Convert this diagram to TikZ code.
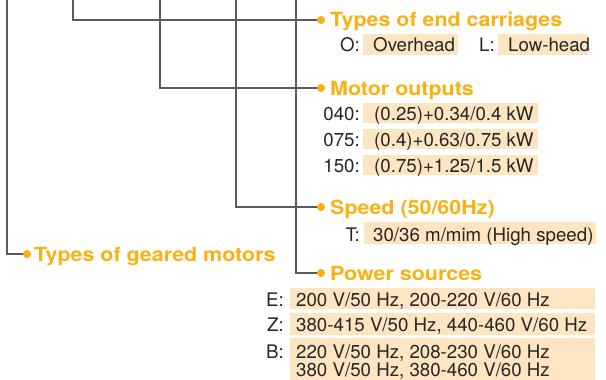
\documentclass[tikz,border=0pt]{standalone}
\usepackage{fontspec}
\setmainfont{TeX Gyre Heros}
\newfontfamily\headfont[FakeStretch=1.1]{TeX Gyre Heros Bold}
\definecolor{orng}{RGB}{250,176,16}
\definecolor{peach}{RGB}{253,229,194}
\definecolor{linec}{RGB}{90,90,90}
\tikzset{
  conn/.style={draw=linec, line width=1.2pt},
  head/.style={font=\headfont\fontsize{19.5}{22}\selectfont, text=orng, inner sep=0pt, anchor=base west},
  txt/.style={font=\fontsize{18.7}{21}\selectfont, text=black!85, inner sep=0pt, anchor=base west},
  lbl/.style={font=\fontsize{18.7}{21}\selectfont, text=black!85, inner sep=0pt, anchor=base east},
  valbox/.style={fill=peach},
  hdot/.style={circle, fill=orng, inner sep=0pt, minimum size=7.8pt}
}
\begin{document}
\begin{tikzpicture}[x=1pt,y=-1pt]
\useasboundingbox (0,0) rectangle (606,380);
% value boxes
\fill[valbox] (363,34) rectangle (458,55);
\fill[valbox] (498,34) rectangle (588,55);
\fill[valbox] (363,103) rectangle (538,123);
\fill[valbox] (363,129) rectangle (538,149);
\fill[valbox] (363,155) rectangle (538,175);
\fill[valbox] (364,222) rectangle (596,244);
\fill[valbox] (290,288) rectangle (595,309);
\fill[valbox] (290,313) rectangle (595,335);
\fill[valbox] (290,338) rectangle (595,380);
% top coordinates of connectors
\coordinate (t1) at (7,0);
\coordinate (t2) at (73,0);
\coordinate (t3) at (160,0);
\coordinate (t4) at (236,0);
\coordinate (t5) at (296,0);
% dots
\node[hdot] (d1) at (27,254) {};
\node[hdot] (d2) at (321,20) {};
\node[hdot] (d3) at (321,88) {};
\node[hdot] (d4) at (321,207) {};
\node[hdot] (d5) at (321,273) {};
% connectors
\draw[conn] (t1) |- (d1.center);
\draw[conn] (t2) |- (d2.center);
\draw[conn] (t3) |- (d3.center);
\draw[conn] (t4) |- (d4.center);
\draw[conn] (t5) |- (d5.center);
\node[hdot] at (d1) {};
\node[hdot] at (d2) {};
\node[hdot] at (d3) {};
\node[hdot] at (d4) {};
\node[hdot] at (d5) {};
% headings
\node[head] (h1) at (34,261) {Types of geared motors};
\node[head] (h2) at (330,26.5) {Types of end carriages};
\node[head] (h3) at (330,95.7) {Motor outputs};
\node[head] (h4) at (330,214.5) {Speed (50/60Hz)};
\node[head] (h5) at (330,280.5) {Power sources};
% end carriages
\node[lbl] (lo) at (360,52) {O:};
\node[txt] (vo) at (373,52) {Overhead};
\node[lbl] (ll) at (495,52) {L:};
\node[txt] (vl) at (508,52) {Low-head};
% motor outputs
\node[lbl] (l040) at (360,120) {040:};
\node[txt] (v040) at (374,120) {(0.25)+0.34/0.4 kW};
\node[lbl] (l075) at (360,146) {075:};
\node[txt] (v075) at (374,146) {(0.4)+0.63/0.75 kW};
\node[lbl] (l150) at (360,172) {150:};
\node[txt] (v150) at (374,172) {(0.75)+1.25/1.5 kW};
% speed
\node[lbl] (lt) at (360,241) {T:};
\node[txt] (vt) at (373,241) {30/36 m/mim (High speed)};
% power sources
\node[lbl] (le) at (284,306) {E:};
\node[txt] (ve) at (296,306) {200 V/50 Hz, 200-220 V/60 Hz};
\node[lbl] (lz) at (284,331) {Z:};
\node[txt] (vz) at (296,331) {380-415 V/50 Hz, 440-460 V/60 Hz};
\node[lbl] (lb) at (284,358.3) {B:};
\node[txt] (vb1) at (296,358.3) {220 V/50 Hz, 208-230 V/60 Hz};
\node[txt] (vb2) at (296,376) {380 V/50 Hz, 380-460 V/60 Hz};
\end{tikzpicture}
\end{document}
